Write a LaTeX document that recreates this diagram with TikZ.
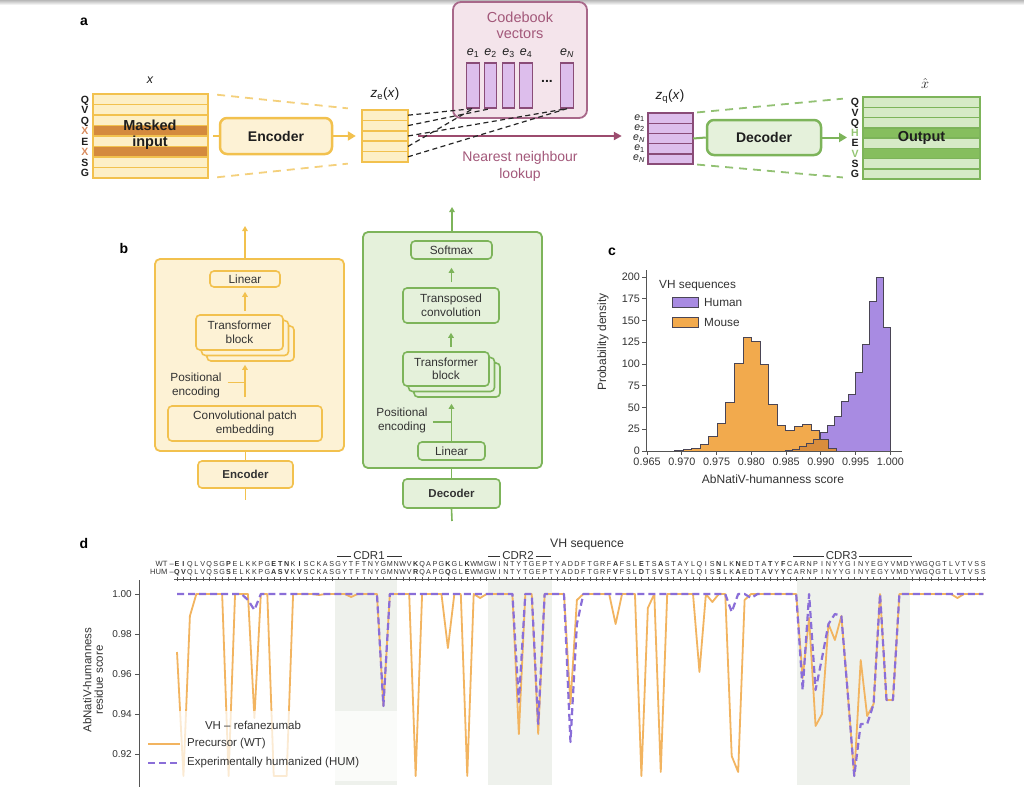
\documentclass[tikz,border=0pt]{standalone}
\usepackage{fontspec}
\setmainfont{Liberation Sans}
\usetikzlibrary{arrows.meta}
\newcommand{\myfs}[2]{\fontsize{#1}{#2}\selectfont}
\definecolor{gold}{HTML}{F2C14E}
\definecolor{paley}{HTML}{FDEFC6}
\definecolor{boxy}{HTML}{FDF2D5}
\definecolor{darko}{HTML}{D48A3E}
\definecolor{xorange}{HTML}{D98C5F}
\definecolor{ydsh}{HTML}{F4D07C}
\definecolor{maroon}{HTML}{9C4B6E}
\definecolor{cbtext}{HTML}{A3587A}
\definecolor{cbfill}{HTML}{F4E4EB}
\definecolor{cbedge}{HTML}{A8688A}
\definecolor{lav}{HTML}{DDBEEC}
\definecolor{laved}{HTML}{8A4C78}
\definecolor{grn}{HTML}{7DB45A}
\definecolor{gdsh}{HTML}{92C173}
\definecolor{grnfill}{HTML}{E5F1DB}
\definecolor{grnlight}{HTML}{D6EAC6}
\definecolor{grndark}{HTML}{86BE5E}
\definecolor{grntext}{HTML}{93C572}
\definecolor{hpurple}{HTML}{A88BE2}
\definecolor{morange}{HTML}{F2AA4D}
\definecolor{movl}{HTML}{D98D3C}
\definecolor{histedge}{HTML}{4A4555}
\definecolor{axisc}{HTML}{555555}
\definecolor{wtc}{HTML}{F2B460}
\definecolor{humc}{HTML}{8A6ED8}
\definecolor{cdr}{HTML}{EEF1EC}
\definecolor{txt}{HTML}{1E1E1E}
\definecolor{gtxt}{HTML}{333333}
\tikzset{
 panel/.style={font=\bfseries\myfs{14}{16}, text=black, inner sep=0},
 yrowl/.style={draw=gold, line width=1.5pt},
 bigbox/.style={line width=2.5pt, rounded corners=7pt, minimum width=112pt, minimum height=36pt, inner sep=0, font=\bfseries\myfs{14}{16}, text=txt},
 letter/.style={inner sep=0, font=\bfseries\myfs{10.5}{10.5}, text height=7.6pt, text depth=0pt},
 ydash/.style={ydsh, line width=1.8pt, dash pattern=on 8pt off 6pt},
 gdash/.style={gdsh, line width=1.8pt, dash pattern=on 8pt off 6pt},
 kdash/.style={black!85, line width=1.2pt, dash pattern=on 5pt off 3.5pt},
 vec/.style={draw=laved, fill=lav, line width=1.3pt, minimum width=12.5pt, minimum height=45pt, inner sep=0},
 ybox/.style={draw=gold, fill=boxy, line width=1.6pt, rounded corners=4pt, inner sep=0, font=\myfs{11.8}{13.5}, align=center, text=gtxt},
 gbox/.style={draw=grn, fill=grnfill, line width=1.6pt, rounded corners=4pt, inner sep=0, font=\myfs{11.8}{13.5}, align=center, text=gtxt},
 yarr/.style={gold, line width=1.6pt, -{Triangle[length=5pt,width=5.5pt]}},
 garr/.style={grn, line width=1.6pt, -{Triangle[length=5pt,width=5.5pt]}},
 ylin/.style={gold, line width=1.6pt},
 glin/.style={grn, line width=1.6pt},
 lbl/.style={font=\myfs{11.8}{14}, align=center, text=gtxt, inner sep=1pt},
 tickl/.style={axisc, line width=0.8pt},
 ticklab/.style={font=\myfs{10.8}{12}, text=gtxt, inner sep=0},
 seq/.style={font=\myfs{7.2}{8}, inner sep=0, text height=5.3pt, text depth=0pt, text=gtxt},
}
\begin{document}
\begin{tikzpicture}[x=1pt,y=-1pt]
\useasboundingbox (0,0) rectangle (1024,787);
\fill[white] (0,0) rectangle (1024,787);
\shade[top color=black!28, bottom color=white] (0,0) rectangle (1024,5);

% ================= panel a =================
\node[panel] (la) at (84,22) {a};
\node[font=\itshape\myfs{12.5}{12.5}, text=txt] (xl) at (150,80) {x};
\node[inner sep=0, minimum width=115pt, minimum height=84pt] (inp) at (150.5,136) {};
\foreach \f [count=\k from 0] in {paley,paley,paley,darko,paley,darko,paley,paley}
  \draw[yrowl, fill=\f] (93,94+\k*10.5) rectangle (208,104.5+\k*10.5);
\foreach \l/\c [count=\k from 0] in {Q/txt,V/txt,Q/txt,X/xorange,E/txt,X/xorange,S/txt,G/txt}
  \node[letter, text=\c] (il\k) at (85,99.25+\k*10.5) {\l};
\node[font=\bfseries\myfs{14.5}{16}, align=center, text=txt] (mi) at (150,135) {Masked\\input};

\node[inner sep=0, minimum width=46pt, minimum height=52pt] (ze) at (385,136) {};
\foreach \k in {0,...,4} \draw[yrowl, fill=paley] (362,110+\k*10.4) rectangle (408,120.4+\k*10.4);
\node[font=\myfs{13.5}{13.5}, text=txt] (zel) at (385,94) {\textit{z}\textsubscript{e}(\textit{x})};
\draw[ydash, shorten <=9pt, shorten >=14pt] (inp.north east) -- (ze.north west);
\draw[ydash, shorten <=9pt, shorten >=14pt] (inp.south east) -- (ze.south west);
\node[bigbox, draw=gold, fill=boxy] (enc) at (276,136) {Encoder};
\draw[gold, line width=2pt, shorten <=5pt] (inp.east) -- (enc.west);
\draw[gold, line width=2pt, shorten >=6pt, -{Triangle[length=8pt,width=9pt]}] (enc.east) -- (ze.west);

% codebook
\node[draw=cbedge, fill=cbfill, line width=1.8pt, rounded corners=8pt, minimum width=134pt, minimum height=116pt, inner sep=0] (cb) at (520,60) {};
\node[font=\myfs{14.5}{16}, text=cbtext, align=center] (cbt) at (520,25) {Codebook\\vectors};
\foreach \x/\s [count=\k] in {473/1,490.5/2,508.5/3,526/4,567/{\textit{N}}}
  \node[font=\myfs{12.5}{12.5}, text=txt, inner sep=0] (el\k) at (\x,53) {\textit{e}\textsubscript{\s}};
\foreach \x [count=\k] in {473,490.5,508.5,526,567}
  \node[vec] (v\k) at (\x,85.5) {};
\node[font=\bfseries\myfs{14}{14}, text=txt] (dots) at (547,81) {...};

\node[inner sep=0, minimum width=45pt, minimum height=51pt] (zq) at (670.5,138.5) {};
\draw[maroon, line width=2pt, shorten <=10pt, shorten >=26pt, -{Triangle[length=8pt,width=8pt]}] (ze.east) -- (ze.east -| zq.west);
\foreach \k in {1,...,5} \coordinate (zr\k) at (408,104.8+\k*10.4);
\draw[kdash] (zr1) -- (v1.south);
\draw[kdash] (zr2) -- (v2.south);
\draw[kdash] (zr3) -- (v5.south);
\draw[kdash] (zr4) -- (v1.south);
\draw[kdash] (zr5) -- (v5.south);
\node[font=\myfs{14}{17}, text=cbtext, align=center] (nnl) at (520,166.5) {Nearest neighbour\\lookup};

\foreach \k in {0,...,4} \draw[draw=laved, fill=lav, line width=1.4pt] (648,113+\k*10.2) rectangle (693,123.2+\k*10.2);
\foreach \s [count=\k from 0] in {1,2,{\textit{N}},1,{\textit{N}}}
  \node[font=\myfs{10.5}{10.5}, text=txt, inner sep=0, anchor=east] (zqe\k) at (645,118.1+\k*10.2) {\textit{e}\textsubscript{\s}};
\node[font=\myfs{13.5}{13.5}, text=txt] (zql) at (670,97) {\textit{z}\textsubscript{q}(\textit{x})};

% decoder side
\node[inner sep=0, minimum width=117pt, minimum height=82pt] (outp) at (921.5,138) {};
\draw[gdash, shorten <=4pt, shorten >=20pt] (zq.north east) -- (outp.north west);
\draw[gdash, shorten <=4pt, shorten >=20pt] (zq.south east) -- (outp.south west);
\node[bigbox, draw=grn, fill=grnfill, minimum width=114pt, minimum height=35pt] (dec) at (764,137.5) {Decoder};
\draw[grn, line width=2pt] (zq.east) -- (dec.west);
\coordinate (oarr) at (847,137.5);
\draw[grn, line width=2pt, -{Triangle[length=8pt,width=9pt]}] (dec.east) -- (oarr);
\foreach \f [count=\k from 0] in {grnlight,grnlight,grnlight,grndark,grnlight,grndark,grnlight,grnlight}
  \draw[draw=grn, line width=1.5pt, fill=\f] (863,97+\k*10.25) rectangle (980,107.25+\k*10.25);
\foreach \l/\c [count=\k from 0] in {Q/txt,V/txt,Q/txt,H/grntext,E/txt,V/grntext,S/txt,G/txt}
  \node[letter, text=\c] (ol\k) at (855,102.1+\k*10.25) {\l};
\node[font=\bfseries\myfs{14.5}{16}, text=txt] (outt) at (921.5,138) {Output};
\node[text=txt, font=\myfs{15}{15}] (xh) at (925,83) {$\hat{x}$};

% ================= panel b =================
\node[panel] (lb) at (124,248) {b};
\node[ybox, rounded corners=5pt, line width=1.8pt, minimum width=189pt, minimum height=192pt] (encbig) at (249.5,355) {};
\node[ybox, minimum width=70pt, minimum height=16pt] (lin1) at (245,279) {Linear};
\node[ybox, minimum width=87pt, minimum height=35pt] (tb1c) at (250.5,343.5) {};
\node[ybox, minimum width=87pt, minimum height=35pt] (tb1b) at (245,338) {};
\node[ybox, minimum width=87pt, minimum height=35pt] (tb1) at (239.5,332.5) {Transformer\\block};
\node[ybox, minimum width=154pt, minimum height=35pt] (conv1) at (245,423.5) {Convolutional patch\\embedding};
\node[lbl] (pe1) at (196,385) {Positional\\encoding};
\node[ybox, font=\bfseries\myfs{11.5}{13}, minimum width=95pt, minimum height=27pt] (encs) at (245.5,474.5) {Encoder};
\coordinate (eTop) at (245,226);
\coordinate (eBot) at (245.5,500);
\draw[yarr] (eTop |- encbig.north) -- (eTop);
\draw[yarr, shorten <=3pt, shorten >=4pt] (lin1.south |- tb1.north) -- (lin1.south);
\draw[yarr, shorten <=8pt, shorten >=3pt] (conv1.north) -- (conv1.north |- tb1c.south);
\coordinate (pe1j) at ([yshift=2.5pt]pe1.east);
\draw[ylin, shorten <=5pt] (pe1j) -- (pe1j -| conv1.north);
\draw[ylin] (encs.north |- encbig.south) -- (encs.north);
\draw[ylin] (encs.south) -- (eBot);

\node[gbox, rounded corners=5pt, line width=1.8pt, minimum width=179pt, minimum height=236pt] (decbig) at (452.5,350) {};
\node[gbox, minimum width=81pt, minimum height=18pt] (sm) at (451.5,250) {Softmax};
\node[gbox, minimum width=96pt, minimum height=35pt] (tc) at (451,305.5) {Transposed\\convolution};
\node[gbox, minimum width=86pt, minimum height=34pt] (tb2c) at (457,380) {};
\node[gbox, minimum width=86pt, minimum height=34pt] (tb2b) at (451.5,374.5) {};
\node[gbox, minimum width=86pt, minimum height=34pt] (tb2) at (446,369) {Transformer\\block};
\node[gbox, minimum width=67pt, minimum height=18pt] (lin2) at (451.5,451) {Linear};
\node[lbl] (pe2) at (402,420.5) {Positional\\encoding};
\node[gbox, font=\bfseries\myfs{11.5}{13}, minimum width=97pt, minimum height=29pt] (decs) at (451.5,493.5) {Decoder};
\coordinate (dTop) at (452,207);
\coordinate (dBot) at (452,521);
\draw[garr] (dTop |- decbig.north) -- (dTop);
\draw[garr, shorten <=5pt, shorten >=8pt] (sm.south |- tc.north) -- (sm.south);
\draw[garr, shorten <=4pt, shorten >=9pt] (tc.south |- tb2.north) -- (tc.south);
\draw[garr, shorten >=6pt] (lin2.north) -- (lin2.north |- tb2c.south);
\coordinate (pe2j) at ([yshift=-1.5pt]pe2.east);
\draw[glin, shorten <=4pt] (pe2j) -- (pe2j -| lin2.north);
\draw[glin] (decs.north |- decbig.south) -- (decs.north);
\draw[glin] (decs.south) -- (dBot);

% ================= panel c =================
\node[panel] (lc) at (612,252) {c};
\fill[morange] (674.8,451) |- (683.3,450.6) |- (691.8,449.7) |- (700.4,448.4) |- (708.9,444.0) |- (717.4,436.2) |- (725.9,423.2) |- (734.4,402.3) |- (743.0,363.1) |- (751.5,337.0) |- (760.0,341.4) |- (768.5,364.9) |- (777.0,404.0) |- (785.6,425.8) |- (794.1,430.1) |- (802.6,426.6) |- (811.1,424.0) |- (819.6,430.1) |- (828.2,439.7) |- (836.7,448.4) -- (836.7,451) -- cycle;
\fill[hpurple] (785.8,451) |- (792.7,450.6) |- (799.7,449.3) |- (806.6,446.7) |- (813.6,443.2) |- (820.5,439.7) |- (827.5,432.7) |- (834.4,425.8) |- (841.4,416.2) |- (848.3,401.4) |- (855.3,394.5) |- (862.2,372.7) |- (869.2,344.9) |- (876.1,301.4) |- (883.1,277) |- (890.0,327.5) -- (890.0,451) -- cycle;
\begin{scope}
\clip (674.8,451) |- (683.3,450.6) |- (691.8,449.7) |- (700.4,448.4) |- (708.9,444.0) |- (717.4,436.2) |- (725.9,423.2) |- (734.4,402.3) |- (743.0,363.1) |- (751.5,337.0) |- (760.0,341.4) |- (768.5,364.9) |- (777.0,404.0) |- (785.6,425.8) |- (794.1,430.1) |- (802.6,426.6) |- (811.1,424.0) |- (819.6,430.1) |- (828.2,439.7) |- (836.7,448.4) -- (836.7,451) -- cycle;
\fill[movl] (785.8,451) |- (792.7,450.6) |- (799.7,449.3) |- (806.6,446.7) |- (813.6,443.2) |- (820.5,439.7) |- (827.5,432.7) |- (834.4,425.8) |- (841.4,416.2) |- (848.3,401.4) |- (855.3,394.5) |- (862.2,372.7) |- (869.2,344.9) |- (876.1,301.4) |- (883.1,277) |- (890.0,327.5) -- (890.0,451) -- cycle;
\end{scope}
\draw[histedge, line width=1pt] (674.8,451) |- (683.3,450.6) |- (691.8,449.7) |- (700.4,448.4) |- (708.9,444.0) |- (717.4,436.2) |- (725.9,423.2) |- (734.4,402.3) |- (743.0,363.1) |- (751.5,337.0) |- (760.0,341.4) |- (768.5,364.9) |- (777.0,404.0) |- (785.6,425.8) |- (794.1,430.1) |- (802.6,426.6) |- (811.1,424.0) |- (819.6,430.1) |- (828.2,439.7) |- (836.7,448.4) -- (836.7,451);
\draw[histedge, line width=1pt] (785.8,451) |- (792.7,450.6) |- (799.7,449.3) |- (806.6,446.7) |- (813.6,443.2) |- (820.5,439.7) |- (827.5,432.7) |- (834.4,425.8) |- (841.4,416.2) |- (848.3,401.4) |- (855.3,394.5) |- (862.2,372.7) |- (869.2,344.9) |- (876.1,301.4) |- (883.1,277) |- (890.0,327.5) -- (890.0,451);
\draw[axisc, line width=0.9pt] (646,270) -- (646,451) -- (902,451);
\foreach \v in {0,25,...,200} {
  \draw[tickl] (642,451-\v*0.87) -- (646,451-\v*0.87);
  \node[ticklab, anchor=east] (cy\v) at (640,451-\v*0.87) {\v};
}
\foreach \l [count=\k from 0] in {0.965,0.970,0.975,0.980,0.985,0.990,0.995,1.000} {
  \draw[tickl] (647+\k*34.76,451) -- (647+\k*34.76,455);
  \node[ticklab, anchor=north] (cx\k) at (647+\k*34.76,458) {\l};
}
\node[font=\myfs{12}{13}, text=gtxt] (cxl) at (773,479) {AbNatiV-humanness score};
\node[font=\myfs{12}{13}, text=gtxt, rotate=90] (cyl) at (603,342) {Probability density};
\node[font=\myfs{11.8}{13}, text=gtxt, anchor=west, inner sep=0] (legt) at (659,286) {VH sequences};
\node[draw=histedge, fill=hpurple, line width=0.9pt, minimum width=26pt, minimum height=10pt, inner sep=0] (hpat) at (685,302) {};
\node[font=\myfs{11.8}{13}, text=gtxt, anchor=west, inner sep=0] (hlab) at (704,302) {Human};
\node[draw=histedge, fill=morange, line width=0.9pt, minimum width=26pt, minimum height=10pt, inner sep=0] (mpat) at (685,322) {};
\node[font=\myfs{11.8}{13}, text=gtxt, anchor=west, inner sep=0] (mlab) at (704,322) {Mouse};

% ================= panel d =================
\node[panel] (ld) at (84,543) {d};
\node[font=\myfs{12.3}{14}, text=gtxt] (vhs) at (587,545) {VH sequence};
\node[font=\myfs{11.5}{12}, text=gtxt, inner sep=2pt] (cdr1) at (369,556) {CDR1};
\node[font=\myfs{11.5}{12}, text=gtxt, inner sep=2pt] (cdr2) at (518,556) {CDR2};
\node[font=\myfs{11.5}{12}, text=gtxt, inner sep=2pt] (cdr3) at (841.5,556) {CDR3};
\coordinate (c1a) at (337,556); \coordinate (c1b) at (402,556);
\coordinate (c2a) at (488,556); \coordinate (c2b) at (551,556);
\coordinate (c3a) at (793,556); \coordinate (c3b) at (912,556);
\draw[gtxt, line width=0.9pt] (c1a) -- (cdr1.west);
\draw[gtxt, line width=0.9pt] (cdr1.east) -- (c1b);
\draw[gtxt, line width=0.9pt] (c2a) -- (cdr2.west);
\draw[gtxt, line width=0.9pt] (cdr2.east) -- (c2b);
\draw[gtxt, line width=0.9pt] (c3a) -- (cdr3.west);
\draw[gtxt, line width=0.9pt] (cdr3.east) -- (c3b);

\node[seq, font=\myfs{7.6}{8}, anchor=east] (wtl) at (174,564) {WT --};
\node[seq, font=\myfs{7.6}{8}, anchor=east] (huml) at (174,572) {HUM --};
\foreach \c [count=\i] in {\textbf{E},\textbf{I},Q,L,V,Q,S,G,\textbf{P},E,L,K,K,P,G,\textbf{E},\textbf{T},\textbf{N},K,\textbf{I},S,C,K,A,S,G,Y,T,F,T,N,Y,G,M,N,W,V,\textbf{K},Q,A,P,G,\textbf{K},G,L,\textbf{K},W,M,G,W,I,N,T,Y,T,G,E,P,T,Y,A,D,D,F,T,G,R,F,\textbf{A},F,S,L,\textbf{E},T,S,\textbf{A},S,T,A,Y,L,Q,I,S,\textbf{N},L,K,\textbf{N},E,D,T,A,\textbf{T},Y,\textbf{F},C,A,R,N,P,I,N,Y,Y,G,I,N,Y,E,G,Y,V,M,D,Y,W,G,Q,G,T,L,V,T,V,S,S}
  \node[seq] (wt\i) at ({177+(\i-1)*6.45},564) {\c};
\foreach \c [count=\i] in {\textbf{Q},\textbf{V},Q,L,V,Q,S,G,\textbf{S},E,L,K,K,P,G,\textbf{A},\textbf{S},\textbf{V},K,\textbf{V},S,C,K,A,S,G,Y,T,F,T,N,Y,G,M,N,W,V,\textbf{R},Q,A,P,G,\textbf{Q},G,L,\textbf{E},W,M,G,W,I,N,T,Y,T,G,E,P,T,Y,A,D,D,F,T,G,R,F,\textbf{V},F,S,L,\textbf{D},T,S,\textbf{V},S,T,A,Y,L,Q,I,S,\textbf{S},L,K,\textbf{A},E,D,T,A,\textbf{V},Y,\textbf{Y},C,A,R,N,P,I,N,Y,Y,G,I,N,Y,E,G,Y,V,M,D,Y,W,G,Q,G,T,L,V,T,V,S,S}
  \node[seq] (hum\i) at ({177+(\i-1)*6.45},572) {\c};
\draw[axisc, line width=0.5pt] (174,579.5) -- (986,579.5);
\foreach \i in {1,...,126} \draw[axisc, line width=0.5pt] ({177+(\i-1)*6.45},577.3) -- ({177+(\i-1)*6.45},581.3);

\fill[cdr] (335,580) rectangle (397,785);
\fill[cdr] (488,580) rectangle (552,785);
\fill[cdr] (797,580) rectangle (910,785);
\draw[axisc, line width=0.9pt] (139,580) -- (139,787);
\foreach \v/\l in {0/1.00,1/0.98,2/0.96,3/0.94,4/0.92} {
  \draw[tickl] (135,594+\v*40) -- (139,594+\v*40);
  \node[font=\myfs{10}{11}, text=gtxt, inner sep=0, anchor=east] (dy\v) at (132,594+\v*40) {\l};
}
\node[rotate=90, font=\myfs{11.5}{11.5}, align=center, text=gtxt] (dyl) at (93,680) {AbNatiV-humanness\\residue score};

\draw[wtc, line width=1.8pt, line join=round] (177,652) \foreach \v [count=\i] in {0.971,0.909,0.989,1,1,1,1,1,0.909,1,1,1,0.938,1,1,0.909,0.909,0.909,1,1,1,1,0.9995,1,1,1,1,0.9985,1,1,1,1,0.944,1,1,1,1,0.909,1,1,1,1,0.973,1,1,0.909,1,0.998,1,1,1,1,1,0.930,1,1,0.930,1,1,1,1,0.945,0.997,1,1,1,1,1,0.985,1,1,1,0.909,0.993,1,0.911,1,1,1,1,1,0.961,1,0.996,1,1,0.919,0.911,0.997,1,1,1,1,1,1,1,1,0.958,0.988,0.934,0.940,0.985,0.977,0.989,0.950,0.909,0.967,0.939,0.945,1,0.947,0.947,1,1,1,1,1,1,1,1,1,0.998,1,1,1,1} { -- ({177+(\i-1)*6.45},{594+(1-\v)*2000}) };
\draw[humc, line width=2.2pt, dash pattern=on 7pt off 4pt, line join=round] (177,594) \foreach \v [count=\i] in {1,1,1,1,1,1,1,1,1,1,1,0.997,0.992,1,1,1,1,1,1,1,1,1,1,1,1,1,1,1,1,1,1,1,0.944,1,1,1,1,1,1,1,1,1,1,1,1,1,1,1,1,1,1,1,1,0.946,1,1,0.935,1,1,1,1,0.926,0.985,1,1,1,1,1,1,1,1,1,1,1,1,1,1,1,1,1,1,1,1,1,1,1,0.991,1,1,0.998,1,1,1,1,1,1,1,0.952,1,0.952,0.968,0.985,0.990,0.989,0.950,0.909,0.935,0.935,0.945,1,0.947,0.947,1,1,1,1,1,1,1,1,1,1,1,1,1,1} { -- ({177+(\i-1)*6.45},{594+(1-\v)*2000}) };

\fill[white, opacity=0.72] (141,711) rectangle (400,781);
\node[font=\myfs{11.5}{12}, text=gtxt] (lgt) at (253,725) {VH -- refanezumab};
\coordinate (lg1a) at (148,744); \coordinate (lg1b) at (180,744);
\coordinate (lg2a) at (148,763); \coordinate (lg2b) at (180,763);
\draw[wtc, line width=1.8pt] (lg1a) -- (lg1b);
\draw[humc, line width=2.2pt, dash pattern=on 7pt off 4pt] (lg2a) -- (lg2b);
\node[font=\myfs{11.5}{12}, text=gtxt, anchor=west, inner sep=0] (lg1t) at (187,744) {Precursor (WT)};
\node[font=\myfs{11.5}{12}, text=gtxt, anchor=west, inner sep=0] (lg2t) at (187,763) {Experimentally humanized (HUM)};
\end{tikzpicture}
\end{document}
